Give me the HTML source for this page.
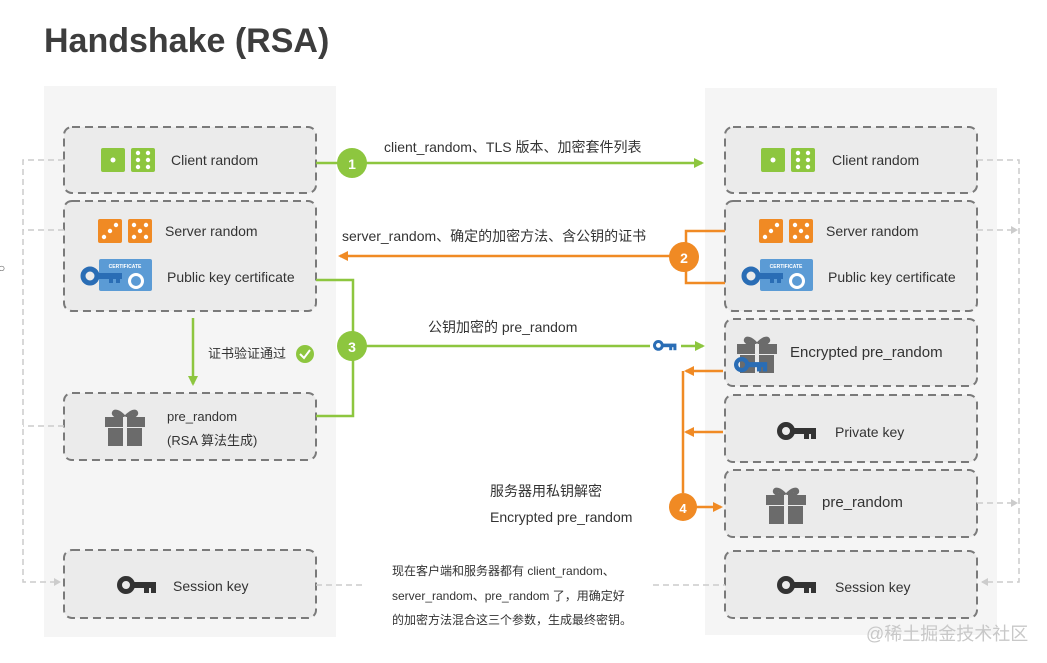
<!DOCTYPE html>
<html><head><meta charset="utf-8"><style>
html,body{margin:0;padding:0;background:#fff;}
svg{display:block}
text{font-family:"Liberation Sans","Noto Sans CJK SC",sans-serif;fill:#333}
</style></head><body>
<svg width="1047" height="663" viewBox="0 0 1047 663" xmlns="http://www.w3.org/2000/svg">
<defs>
<marker id="ag" markerWidth="10" markerHeight="10" refX="8" refY="5" orient="auto" markerUnits="userSpaceOnUse"><path d="M0,0 L10,5 L0,10 Z" fill="#8dc63f"/></marker>
<marker id="ao" markerWidth="10" markerHeight="10" refX="8" refY="5" orient="auto" markerUnits="userSpaceOnUse"><path d="M0,0 L10,5 L0,10 Z" fill="#f08a24"/></marker>
<marker id="ad" markerWidth="8" markerHeight="8" refX="6" refY="4" orient="auto" markerUnits="userSpaceOnUse"><path d="M0,0 L7,4 L0,8 Z" fill="#ccc"/></marker>
<g id="dg"><rect x="0" y="0" width="24" height="24" rx="2" fill="#8dc63f"/><circle cx="12" cy="12" r="2.5" fill="#fff"/>
<rect x="30" y="0" width="24" height="24" rx="2" fill="#8dc63f"/><g fill="#fff"><circle cx="37" cy="5" r="2.2"/><circle cx="47" cy="5" r="2.2"/><circle cx="37" cy="12" r="2.2"/><circle cx="47" cy="12" r="2.2"/><circle cx="37" cy="19" r="2.2"/><circle cx="47" cy="19" r="2.2"/></g></g>
<g id="do"><rect x="0" y="0" width="24" height="24" rx="2" fill="#f08a24"/><g fill="#fff"><circle cx="6" cy="18" r="2.2"/><circle cx="12" cy="12" r="2.2"/><circle cx="18" cy="6" r="2.2"/></g>
<rect x="30" y="0" width="24" height="24" rx="2" fill="#f08a24"/><g fill="#fff"><circle cx="36" cy="6" r="2.2"/><circle cx="48" cy="6" r="2.2"/><circle cx="42" cy="12" r="2.2"/><circle cx="36" cy="18" r="2.2"/><circle cx="48" cy="18" r="2.2"/></g></g>
<g id="cert"><rect x="18" y="0" width="53" height="32" rx="2" fill="#5b9bd5"/><text x="44" y="9" font-size="5" text-anchor="middle" style="fill:#fff;font-weight:bold">CERTIFICATE</text><circle cx="55" cy="22" r="8" fill="#fff"/><circle cx="55" cy="22" r="5" fill="#5b9bd5"/>
<circle cx="9" cy="17" r="7" fill="none" stroke="#2a6db5" stroke-width="5"/><rect x="15" y="14" width="26" height="6" fill="#2a6db5"/><rect x="28" y="19" width="4" height="5" fill="#2a6db5"/><rect x="35" y="19" width="4" height="5" fill="#2a6db5"/></g>
<g id="key"><circle cx="9" cy="9" r="6.5" fill="none" stroke="#333" stroke-width="5"/><rect x="15" y="6" width="24" height="6" fill="#333"/><rect x="27" y="11" width="5" height="6" fill="#333"/><rect x="34" y="11" width="5" height="6" fill="#333"/></g>
<g id="gift"><path d="M19,8 C8,-4 4,8 17,8 M21,8 C32,-4 36,8 23,8" fill="none" stroke="#6b6b6b" stroke-width="4"/><rect x="0" y="8" width="40" height="10" fill="#6b6b6b"/><rect x="3" y="19" width="34" height="18" fill="#6b6b6b"/><rect x="18" y="8" width="4" height="29" fill="#ebebeb"/></g>
</defs>

<text x="44" y="52" font-size="34" style="font-weight:bold;fill:#3d3d3d">Handshake (RSA)</text>

<rect x="44" y="86" width="292" height="551" fill="#f5f5f5"/>
<rect x="705" y="88" width="292" height="547" fill="#f5f5f5"/>

<g fill="#ebebeb" stroke="#7a7a7a" stroke-width="2" stroke-dasharray="8,5">
<rect x="64" y="127" width="252" height="66" rx="8"/>
<rect x="64" y="201" width="252" height="110" rx="8"/>
<rect x="64" y="393" width="252" height="67" rx="8"/>
<rect x="64" y="550" width="252" height="68" rx="8"/>
<rect x="725" y="127" width="252" height="66" rx="8"/>
<rect x="725" y="201" width="252" height="110" rx="8"/>
<rect x="725" y="319" width="252" height="67" rx="8"/>
<rect x="725" y="395" width="252" height="67" rx="8"/>
<rect x="725" y="470" width="252" height="67" rx="8"/>
<rect x="725" y="551" width="252" height="67" rx="8"/>
</g>

<g fill="none" stroke="#ccc" stroke-width="1.5" stroke-dasharray="6,4">
<path d="M64,160 H23 V582 H60" marker-end="url(#ad)"/>
<path d="M64,230 H23"/><path d="M64,426 H23"/>
<path d="M977,160 H1019 V582 H982" marker-end="url(#ad)"/>
<path d="M977,230 H1017" marker-end="url(#ad)"/>
<path d="M977,503 H1017" marker-end="url(#ad)"/>
<path d="M316,585 H366"/><path d="M653,585 H725"/>
</g>

<use href="#dg" x="101" y="148"/>
<text x="171" y="165" font-size="14">Client random</text>
<use href="#do" x="98" y="219"/>
<text x="165" y="236" font-size="14">Server random</text>
<use href="#cert" x="81" y="259"/>
<text x="167" y="282" font-size="14">Public key certificate</text>
<use href="#gift" x="105" y="409"/>
<text x="167" y="421" font-size="13">pre_random</text>
<text x="167" y="445" font-size="13">(RSA 算法生成)</text>
<use href="#key" x="117" y="576"/>
<text x="173" y="591" font-size="14">Session key</text>

<use href="#dg" x="761" y="148"/>
<text x="832" y="165" font-size="14">Client random</text>
<use href="#do" x="759" y="219"/>
<text x="826" y="236" font-size="14">Server random</text>
<use href="#cert" x="742" y="259"/>
<text x="828" y="282" font-size="14">Public key certificate</text>
<use href="#gift" x="737" y="336"/>
<g transform="translate(734,357) scale(0.85)"><circle cx="9" cy="9" r="6.5" fill="none" stroke="#2a6db5" stroke-width="5"/><rect x="15" y="6" width="24" height="6" fill="#2a6db5"/><rect x="27" y="11" width="5" height="6" fill="#2a6db5"/><rect x="34" y="11" width="5" height="6" fill="#2a6db5"/></g>
<text x="790" y="357" font-size="15">Encrypted pre_random</text>
<use href="#key" x="777" y="422"/>
<text x="835" y="437" font-size="14">Private key</text>
<use href="#gift" x="766" y="487"/>
<text x="822" y="507" font-size="15">pre_random</text>
<use href="#key" x="777" y="576"/>
<text x="835" y="592" font-size="14">Session key</text>

<path d="M316,163 H702" stroke="#8dc63f" stroke-width="2.5" fill="none" marker-end="url(#ag)"/>
<text x="384" y="152" font-size="14">client_random、TLS 版本、加密套件列表</text>
<circle cx="352" cy="163" r="15" fill="#8dc63f"/><text x="352" y="169" font-size="14" text-anchor="middle" style="fill:#fff;font-weight:bold">1</text>

<path d="M725,231 H686 V283 H725" stroke="#f08a24" stroke-width="2.5" fill="none"/>
<path d="M670,256 H340" stroke="#f08a24" stroke-width="2.5" fill="none" marker-end="url(#ao)"/>
<text x="342" y="241" font-size="14">server_random、确定的加密方法、含公钥的证书</text>
<circle cx="684" cy="257" r="15" fill="#f08a24"/><text x="684" y="263" font-size="14" text-anchor="middle" style="fill:#fff;font-weight:bold">2</text>

<path d="M316,280 H353 V416 H316" stroke="#8dc63f" stroke-width="2.5" fill="none"/>
<path d="M353,346 H650" stroke="#8dc63f" stroke-width="2.5" fill="none"/>
<path d="M681,346 H703" stroke="#8dc63f" stroke-width="2.5" fill="none" marker-end="url(#ag)"/>
<g transform="translate(653,340) scale(0.6)"><circle cx="9" cy="9" r="6.5" fill="none" stroke="#2a6db5" stroke-width="5"/><rect x="15" y="6" width="24" height="6" fill="#2a6db5"/><rect x="27" y="11" width="5" height="6" fill="#2a6db5"/><rect x="34" y="11" width="5" height="6" fill="#2a6db5"/></g>
<text x="428" y="332" font-size="14">公钥加密的 pre_random</text>
<circle cx="352" cy="346" r="15" fill="#8dc63f"/><text x="352" y="352" font-size="14" text-anchor="middle" style="fill:#fff;font-weight:bold">3</text>

<path d="M193,318 V384" stroke="#8dc63f" stroke-width="2.5" fill="none" marker-end="url(#ag)"/>
<text x="208" y="358" font-size="13">证书验证通过</text>
<circle cx="305" cy="354" r="9" fill="#8dc63f"/><path d="M300,354 L304,358 L310,350" stroke="#fff" stroke-width="2" fill="none"/>

<path d="M683,371 V493" stroke="#f08a24" stroke-width="2.5" fill="none"/>
<path d="M723,371 H686" stroke="#f08a24" stroke-width="2.5" fill="none" marker-end="url(#ao)"/>
<path d="M723,432 H686" stroke="#f08a24" stroke-width="2.5" fill="none" marker-end="url(#ao)"/>
<path d="M696,507 H721" stroke="#f08a24" stroke-width="2.5" fill="none" marker-end="url(#ao)"/>
<circle cx="683" cy="507" r="14" fill="#f08a24"/><text x="683" y="513" font-size="13" text-anchor="middle" style="fill:#fff;font-weight:bold">4</text>
<text x="490" y="496" font-size="14">服务器用私钥解密</text>
<text x="490" y="522" font-size="14">Encrypted pre_random</text>

<text x="392" y="575" font-size="12">现在客户端和服务器都有 client_random、</text>
<text x="392" y="600" font-size="12">server_random、pre_random 了，用确定好</text>
<text x="392" y="624" font-size="12">的加密方法混合这三个参数，生成最终密钥。</text>

<text x="866" y="640" font-size="18" style="fill:#c8c8c8">@稀土掘金技术社区</text>
<text x="-2" y="272" font-size="12" style="fill:#555">○</text>
</svg>
</body></html>
